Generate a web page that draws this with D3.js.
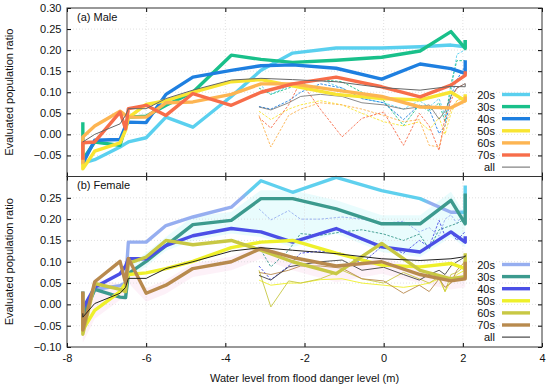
<!DOCTYPE html>
<html>
<head>
<meta charset="utf-8">
<script src="https://cdn.jsdelivr.net/npm/d3@7"></script>
<style>
  html, body { margin: 0; padding: 0; background: #fff; }
  svg { display: block; font-family: "Liberation Sans", Arial, Helvetica, sans-serif; }
</style>
</head>
<body>
<svg id="chart" width="550" height="388"></svg>
<script>
// ---------------- data ----------------
const series = ["20s", "30s", "40s", "50s", "60s", "70s", "all"];
const xTicks = [-8, -6, -4, -2, 0, 2, 4];
const yTicksTop = [-0.05, 0, 0.05, 0.10, 0.15, 0.20, 0.25, 0.30];
const yTicksBottom = [-0.10, -0.05, 0, 0.05, 0.10, 0.15, 0.20, 0.25];

// water level nodes of the thick lines (m)
const levels = [-7.6, -7.6, -7.3, -6.66, -6.52, -6.45, -6.0, -5.5, -4.82, -3.85, -3.1, -2.3, -1.2, -0.05, 0.92, 1.7, 2.06, 2.06];

// (a) Male
const male20 = [-0.060, -0.068, -0.060, -0.030, -0.022, -0.018, -0.008, 0.041, 0.017, 0.090, 0.152, 0.193, 0.205, 0.205, 0.208, 0.212, 0.208, 0.224];
const male30 = [0.029, -0.060, -0.018, -0.026, 0.019, 0.041, 0.043, 0.069, 0.100, 0.188, 0.178, 0.171, 0.176, 0.183, 0.198, 0.244, 0.204, 0.224];
const male40 = [-0.060, -0.069, -0.014, -0.012, 0.020, 0.029, 0.028, 0.095, 0.136, 0.152, 0.163, 0.165, 0.157, 0.131, 0.167, 0.156, 0.145, 0.176];
const male50 = [-0.060, -0.082, -0.040, -0.020, 0.010, 0.040, 0.071, 0.080, 0.100, 0.125, 0.130, 0.115, 0.095, 0.085, 0.082, 0.100, 0.080, 0.095];
const male60 = [-0.070, -0.006, 0.020, 0.055, 0.045, 0.041, 0.041, 0.075, 0.077, 0.095, 0.120, 0.120, 0.105, 0.090, 0.065, 0.063, 0.080, 0.090];
const male70 = [-0.060, -0.020, -0.018, 0.053, 0.013, 0.061, 0.069, 0.045, 0.097, 0.069, 0.100, 0.120, 0.136, 0.113, 0.089, 0.117, 0.140, 0.150];
const maleAll = [-0.018, -0.018, 0.000, 0.025, 0.045, 0.061, 0.061, 0.085, 0.105, 0.129, 0.133, 0.130, 0.125, 0.111, 0.105, 0.114, 0.113, 0.121];

// (b) Female
const female20 = [-0.030, -0.030, 0.035, 0.044, 0.050, 0.146, 0.146, 0.185, 0.205, 0.228, 0.290, 0.263, 0.298, 0.267, 0.248, 0.216, 0.216, 0.279];
const female30 = [0.030, -0.030, 0.035, 0.017, 0.016, 0.072, 0.101, 0.138, 0.187, 0.197, 0.248, 0.248, 0.224, 0.189, 0.189, 0.244, 0.189, 0.260];
const female40 = [-0.025, -0.010, 0.040, 0.072, 0.090, 0.107, 0.107, 0.138, 0.161, 0.178, 0.170, 0.146, 0.178, 0.135, 0.123, 0.170, 0.146, 0.160];
const female50 = [-0.056, -0.060, -0.014, 0.030, 0.050, 0.070, 0.074, 0.084, 0.101, 0.133, 0.146, 0.150, 0.120, 0.092, 0.088, 0.096, 0.084, 0.100];
const female60 = [0.026, -0.070, 0.049, 0.035, 0.030, 0.096, 0.111, 0.150, 0.140, 0.150, 0.127, 0.100, 0.072, 0.143, 0.080, 0.060, 0.065, 0.120];
const female70 = [0.030, -0.060, 0.053, 0.101, 0.050, 0.108, 0.026, 0.045, 0.084, 0.100, 0.131, 0.110, 0.090, 0.100, 0.070, 0.055, 0.060, 0.100];
const femaleAll = [-0.021, -0.030, 0.002, 0.026, 0.040, 0.061, 0.061, 0.084, 0.100, 0.125, 0.133, 0.127, 0.119, 0.107, 0.103, 0.107, 0.112, 0.115];

// water level nodes of the thin lines (m)
const levelsThin = [-3.15, -2.85, -2.4, -2.1, -1.6, -1.05, -0.55, 0.0, 0.5, 0.9, 1.15, 1.4, 1.55, 1.7, 1.85, 2.05];

const male20Thin = [0.120, 0.095, 0.115, 0.125, 0.130, 0.110, 0.085, 0.075, 0.060, 0.080, 0.065, 0.085, 0.045, 0.100, 0.190, 0.200];
const male30Thin = [0.110, 0.095, 0.110, 0.120, 0.130, 0.125, 0.100, 0.080, 0.021, 0.070, 0.055, 0.075, 0.030, 0.120, 0.175, 0.175];
const male40Thin = [0.066, 0.060, 0.080, 0.100, 0.120, 0.110, 0.085, 0.075, 0.035, 0.070, 0.060, 0.002, 0.020, 0.090, 0.130, 0.160];
const male50Thin = [0.055, 0.035, 0.060, 0.070, 0.080, 0.070, 0.050, 0.030, 0.020, 0.030, 0.010, 0.040, 0.000, 0.050, 0.080, 0.090];
const male60Thin = [0.045, -0.030, 0.045, 0.060, 0.075, 0.070, 0.060, 0.045, 0.030, 0.035, -0.026, -0.030, 0.020, 0.060, 0.080, 0.085];
const male70Thin = [0.040, 0.015, 0.070, 0.125, 0.060, -0.006, 0.038, 0.053, -0.026, 0.050, 0.020, -0.038, 0.040, 0.080, 0.110, 0.120];
const maleAllThin = [0.065, 0.058, 0.075, 0.090, 0.095, 0.090, 0.075, 0.070, 0.060, 0.065, 0.070, 0.036, 0.055, 0.090, 0.110, 0.120];

const female20Thin = [0.224, 0.198, 0.220, 0.200, 0.200, 0.205, 0.200, 0.190, 0.195, 0.170, 0.180, 0.160, 0.200, 0.210, 0.190, 0.220];
const female30Thin = [0.135, 0.088, 0.127, 0.166, 0.162, 0.170, 0.175, 0.165, 0.150, 0.165, 0.130, 0.175, 0.180, 0.185, 0.190, 0.200];
const female40Thin = [0.090, 0.058, 0.090, 0.120, 0.125, 0.120, 0.096, 0.140, 0.120, 0.150, 0.135, 0.197, 0.160, 0.170, 0.150, 0.170];
const female50Thin = [0.057, 0.045, 0.050, 0.050, 0.058, 0.060, 0.050, 0.045, 0.040, 0.045, 0.050, 0.060, 0.030, 0.055, 0.070, 0.080];
const female60Thin = [0.080, -0.006, 0.055, 0.050, 0.060, 0.080, 0.060, 0.050, 0.075, 0.060, 0.050, 0.065, 0.030, 0.070, 0.075, 0.090];
const female70Thin = [0.075, 0.070, 0.080, 0.090, 0.090, 0.085, 0.060, 0.055, 0.026, 0.045, 0.030, 0.060, 0.040, 0.050, 0.080, 0.100];
const femaleAllThin = [0.068, 0.057, 0.088, 0.093, 0.100, 0.104, 0.080, 0.087, 0.070, 0.057, 0.070, 0.080, 0.070, 0.090, 0.100, 0.111];

// ---------------- styles ----------------
const maleColors = ["#5ad0ef", "#19c08a", "#1e7fe0", "#f8e532", "#fdb552", "#f76d4a", "#666666"];
const femaleColors = ["url(#f20grad)", "#3c9a8e", "#4b4fe6", "#eef02a", "#c8c844", "#b88a4e", "#222222"];
const femaleLegendColors = ["#96aef0", "#3c9a8e", "#4b4fe6", "#eef02a", "#c8c844", "#b88a4e", "#222222"];

const panels = [
  { label: "(a) Male", top: 8, bottom: 176.5, ticks: yTicksTop,
    thick: [male20, male30, male40, male50, male60, male70, maleAll],
    thin: [male20Thin, male30Thin, male40Thin, male50Thin, male60Thin, male70Thin, maleAllThin],
    colors: maleColors, legendColors: maleColors, thinDash: [true, true, true, true, true, true, false],
    legendY: 94.5 },
  { label: "(b) Female", top: 176.5, bottom: 347, ticks: yTicksBottom,
    thick: [female20, female30, female40, female50, female60, female70, femaleAll],
    thin: [female20Thin, female30Thin, female40Thin, female50Thin, female60Thin, female70Thin, femaleAllThin],
    colors: femaleColors, legendColors: femaleLegendColors, thinDash: [true, true, true, false, false, false, false],
    legendY: 264.5 }
];

// ---------------- drawing ----------------
const svg = d3.select("#chart");
const left = 67, right = 542;
const x = d3.scaleLinear().domain([-8, 4]).range([left, right]);

const defs = svg.append("defs");
const grad = defs.append("linearGradient").attr("id", "f20grad")
  .attr("gradientUnits", "userSpaceOnUse")
  .attr("x1", x(-8)).attr("x2", x(4)).attr("y1", 0).attr("y2", 0);
const gstops = [[-8, "#96aef0"], [-3.6, "#96aef0"], [-3.35, "#5fd0ee"], [0.95, "#5fd0ee"], [1.2, "#96aef0"], [1.85, "#96aef0"], [2.0, "#5fd0ee"], [4, "#5fd0ee"]];
gstops.forEach(([v, c]) => grad.append("stop").attr("offset", (x(v) - x(-8)) / (x(4) - x(-8))).attr("stop-color", c));

panels.forEach((p, pi) => {
  const y = d3.scaleLinear().domain([-0.10, 0.30]).range([p.bottom, p.top]);
  const g = svg.append("g");

  // light shading bands (female panel)
  if (pi === 1) {
    const idx = d3.range(2, levels.length);
    const cyanArea = d3.area()
      .x(i => x(levels[i]))
      .y0(i => y(Math.min(female40[i], female30[i]) - 0.012))
      .y1(i => y(female30[i] + 0.02));
    g.append("path").attr("d", cyanArea(idx.filter(i => levels[i] >= -6.5)))
      .attr("fill", "#e3fbfc").attr("opacity", 0.8);
    const pinkArea = d3.area()
      .x(i => x(levels[i]))
      .y0(i => y(Math.min(female60[i], female70[i], female50[i]) - 0.02))
      .y1(i => y(Math.min(female60[i], female70[i]) + 0.012));
    g.append("path").attr("d", pinkArea(d3.range(1, levels.length)))
      .attr("fill", "#fdeef6").attr("opacity", 0.8);
  }

  // grid
  g.append("g").selectAll("line").data(xTicks.filter(t => t > -8 && t < 4)).join("line")
    .attr("x1", d => x(d)).attr("x2", d => x(d)).attr("y1", p.top).attr("y2", p.bottom)
    .attr("stroke", "#d9d9d9").attr("stroke-width", 0.8).attr("stroke-dasharray", "1,2");
  g.append("g").selectAll("line").data(p.ticks.filter(t => y(t) > p.top + 1 && y(t) < p.bottom - 1)).join("line")
    .attr("x1", left).attr("x2", right).attr("y1", d => y(d)).attr("y2", d => y(d))
    .attr("stroke", "#d9d9d9").attr("stroke-width", 0.8).attr("stroke-dasharray", "1,2");

  // thin lines
  const thinLine = d3.line().x((d, i) => x(levelsThin[i])).y(d => y(d));
  p.thin.forEach((vals, si) => {
    const col = pi === 1 && si === 0 ? femaleLegendColors[0] : p.colors[si];
    g.append("path").attr("d", thinLine(vals))
      .attr("fill", "none").attr("stroke", col)
      .attr("stroke-width", si === 6 ? 0.9 : 1.0)
      .attr("stroke-dasharray", p.thinDash[si] ? "2.5,1.5" : null)
      .attr("opacity", si === 6 ? 0.85 : 0.9);
  });

  // thick lines
  const thickLine = d3.line().x((d, i) => x(levels[i])).y(d => y(d));
  p.thick.forEach((vals, si) => {
    g.append("path").attr("d", thickLine(vals))
      .attr("fill", "none").attr("stroke", p.colors[si])
      .attr("stroke-width", si === 6 ? 1.0 : 3.4)
      .attr("stroke-linejoin", "round");
  });

  // axes (inward ticks)
  const fmtY = d3.format(".2f");
  svg.append("g").attr("transform", `translate(${left},0)`)
    .call(d3.axisLeft(y).tickValues(p.ticks).tickSize(-4).tickPadding(5.5).tickFormat(fmtY))
    .call(a => a.select(".domain").remove())
    .call(a => a.selectAll("text").attr("font-size", 11).attr("fill", "#111").attr("font-family", null));
  svg.append("g").attr("transform", `translate(${right},0)`)
    .call(d3.axisRight(y).tickValues(p.ticks).tickSize(-4).tickFormat(""))
    .call(a => a.select(".domain").remove());
  svg.append("g").attr("transform", `translate(0,${p.top})`)
    .call(d3.axisTop(x).tickValues(xTicks).tickSize(-4).tickFormat(""))
    .call(a => a.select(".domain").remove());
  const bottomAxis = d3.axisBottom(x).tickValues(xTicks).tickSize(-4).tickPadding(7)
    .tickFormat(pi === 1 ? (d => String(d)) : "");
  svg.append("g").attr("transform", `translate(0,${p.bottom})`)
    .call(bottomAxis)
    .call(a => a.select(".domain").remove())
    .call(a => a.selectAll("text").attr("font-size", 11).attr("fill", "#111").attr("font-family", null));

  // frame
  svg.append("rect").attr("x", left).attr("y", p.top).attr("width", right - left).attr("height", p.bottom - p.top)
    .attr("fill", "none").attr("stroke", "#333").attr("stroke-width", 1);

  // panel label
  svg.append("text").attr("x", 77).attr("y", p.top + 12.5).attr("font-size", 11).attr("fill", "#111").text(p.label);

  // y-axis title
  svg.append("text").attr("transform", `translate(13,${(p.top + p.bottom) / 2}) rotate(-90)`)
    .attr("text-anchor", "middle").attr("font-size", 11).attr("fill", "#111").text("Evaluated population ratio");

  // legend
  const lg = svg.append("g");
  series.forEach((s, si) => {
    const ly = p.legendY + si * 12.1;
    lg.append("text").attr("x", 495).attr("y", ly + 4).attr("text-anchor", "end")
      .attr("font-size", 11).attr("fill", "#111").text(s);
    lg.append("line").attr("x1", 502).attr("x2", 530).attr("y1", ly).attr("y2", ly)
      .attr("stroke", p.legendColors[si]).attr("stroke-width", si === 6 ? 1 : 3.4);
  });
});

// x-axis title
svg.append("text").attr("x", x(-2)).attr("y", 382).attr("text-anchor", "middle")
  .attr("font-size", 11).attr("fill", "#111").text("Water level from flood danger level (m)");
</script>
</body>
</html>
